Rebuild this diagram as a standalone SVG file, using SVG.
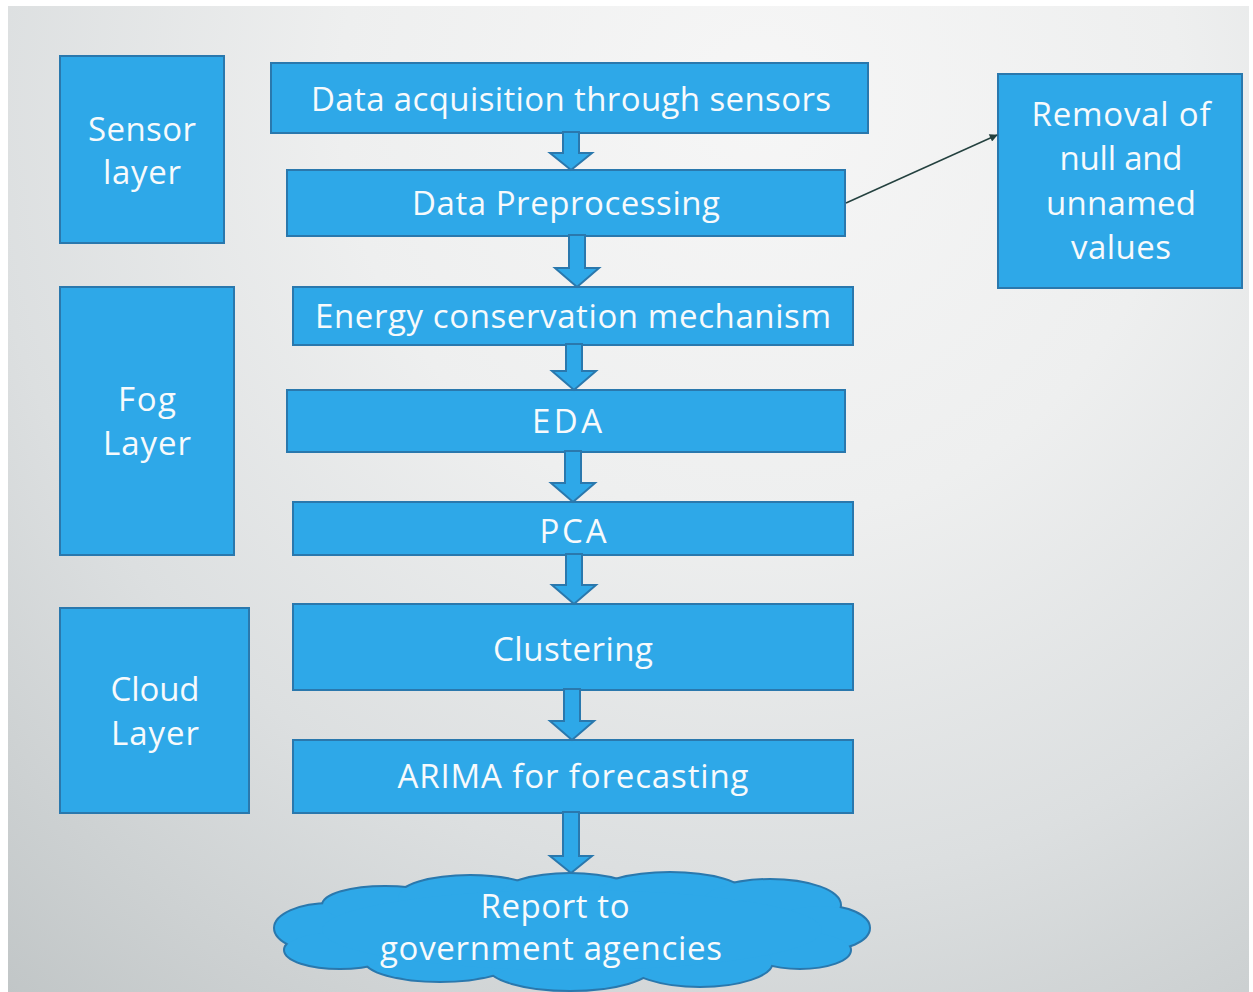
<svg xmlns="http://www.w3.org/2000/svg" width="1253" height="992" viewBox="0 0 1253 992">
<defs>
<radialGradient id="bg" gradientUnits="userSpaceOnUse" cx="760" cy="100" r="1200">
<stop offset="0" stop-color="#f6f6f6"/>
<stop offset="0.35" stop-color="#eeefef"/>
<stop offset="0.65" stop-color="#dcdfe0"/>
<stop offset="1" stop-color="#bfc4c5"/>
</radialGradient>
<marker id="ah" viewBox="0 0 10 10" refX="9" refY="5" markerWidth="10" markerHeight="8" markerUnits="userSpaceOnUse" orient="auto">
<path d="M0,0 L10,5 L0,10 z" fill="#24413f"/>
</marker>
</defs>
<style>
.box{fill:#2ea8e8;stroke:#2a78ad;stroke-width:2}
.arr{fill:#2ea8e8;stroke:#2a78ad;stroke-width:2;stroke-linejoin:miter}
.t{fill:#f7fafc;font-family:"Open Sans",Lato,sans-serif;font-size:33px;text-anchor:middle}
.cl{fill:#2ea8e8;stroke:#2a78ad;stroke-width:4}
.cf{fill:#2ea8e8}
</style>
<rect width="1253" height="992" fill="#ffffff"/>
<rect x="8" y="6" width="1241" height="986" fill="url(#bg)"/>

<g id="sensor-layer"><rect class="box" x="60" y="56" width="164" height="187"/><text class="t" x="142" y="141" textLength="108">Sensor</text><text class="t" x="142" y="184" textLength="78">layer</text></g>
<g id="fog-layer"><rect class="box" x="60" y="287" width="174" height="268"/><text class="t" x="147" y="411" textLength="58">Fog</text><text class="t" x="147" y="455" textLength="88">Layer</text></g>
<g id="cloud-layer"><rect class="box" x="60" y="608" width="189" height="205"/><text class="t" x="155" y="701" textLength="89">Cloud</text><text class="t" x="155" y="745" textLength="88">Layer</text></g>

<g id="acquisition"><rect class="box" x="271" y="63" width="597" height="70"/><text class="t" x="571" y="111" textLength="520">Data acquisition through sensors</text></g>
<g id="preprocessing"><rect class="box" x="287" y="170" width="558" height="66"/><text class="t" x="566" y="215" textLength="308">Data Preprocessing</text></g>
<g id="energy"><rect class="box" x="293" y="287" width="560" height="58"/><text class="t" x="573" y="328" textLength="516">Energy conservation mechanism</text></g>
<g id="eda"><rect class="box" x="287" y="390" width="558" height="62"/><text class="t" x="567" y="433" textLength="70">EDA</text></g>
<g id="pca"><rect class="box" x="293" y="502" width="560" height="53"/><text class="t" x="573" y="543" textLength="67">PCA</text></g>
<g id="clustering"><rect class="box" x="293" y="604" width="560" height="86"/><text class="t" x="573" y="661" textLength="160">Clustering</text></g>
<g id="arima"><rect class="box" x="293" y="740" width="560" height="73"/><text class="t" x="573" y="788" textLength="351">ARIMA for forecasting</text></g>
<g id="removal"><rect class="box" x="998" y="74" width="244" height="214"/><text class="t" x="1121" y="126" textLength="179">Removal of</text><text class="t" x="1121" y="170" textLength="123">null and</text><text class="t" x="1121" y="215" textLength="150">unnamed</text><text class="t" x="1121" y="259" textLength="100">values</text></g>

<g id="report">
<g class="cl">
<ellipse cx="330" cy="928" rx="55" ry="24"/>
<ellipse cx="385" cy="905" rx="62" ry="18"/>
<ellipse cx="470" cy="898" rx="72" ry="22"/>
<ellipse cx="570" cy="896" rx="70" ry="22"/>
<ellipse cx="670" cy="895" rx="75" ry="22"/>
<ellipse cx="770" cy="905" rx="70" ry="25"/>
<ellipse cx="820" cy="928" rx="49" ry="22"/>
<ellipse cx="800" cy="950" rx="50" ry="18"/>
<ellipse cx="700" cy="962" rx="72" ry="24"/>
<ellipse cx="570" cy="966" rx="82" ry="24"/>
<ellipse cx="440" cy="960" rx="75" ry="21"/>
<ellipse cx="340" cy="950" rx="55" ry="18"/>
</g>
<g class="cf">
<ellipse cx="330" cy="928" rx="55" ry="24"/>
<ellipse cx="385" cy="905" rx="62" ry="18"/>
<ellipse cx="470" cy="898" rx="72" ry="22"/>
<ellipse cx="570" cy="896" rx="70" ry="22"/>
<ellipse cx="670" cy="895" rx="75" ry="22"/>
<ellipse cx="770" cy="905" rx="70" ry="25"/>
<ellipse cx="820" cy="928" rx="49" ry="22"/>
<ellipse cx="800" cy="950" rx="50" ry="18"/>
<ellipse cx="700" cy="962" rx="72" ry="24"/>
<ellipse cx="570" cy="966" rx="82" ry="24"/>
<ellipse cx="440" cy="960" rx="75" ry="21"/>
<ellipse cx="340" cy="950" rx="55" ry="18"/>
<ellipse cx="572" cy="930" rx="250" ry="40"/>
</g>
<text class="t" x="555" y="918" textLength="149">Report to</text>
<text class="t" x="551" y="960" textLength="342">government agencies</text>
</g>

<g id="connectors">
<polygon class="arr" points="563,132 579,132 579,153 592,153 571,170 550,153 563,153"/>
<polygon class="arr" points="569,235 585,235 585,268 599,268 577,287 555,268 569,268"/>
<polygon class="arr" points="566,344 582,344 582,371 596,371 574,390 552,371 566,371"/>
<polygon class="arr" points="565,451 581,451 581,483 595,483 573,502 551,483 565,483"/>
<polygon class="arr" points="566,554 582,554 582,585 596,585 574,604 552,585 566,585"/>
<polygon class="arr" points="564,689 580,689 580,721 594,721 572,740 550,721 564,721"/>
<polygon class="arr" points="563,812 579,812 579,856 592,856 571,873 550,856 563,856"/>
<line x1="846" y1="203" x2="997" y2="135" stroke="#24413f" stroke-width="1.5" marker-end="url(#ah)"/>
</g>
</svg>
